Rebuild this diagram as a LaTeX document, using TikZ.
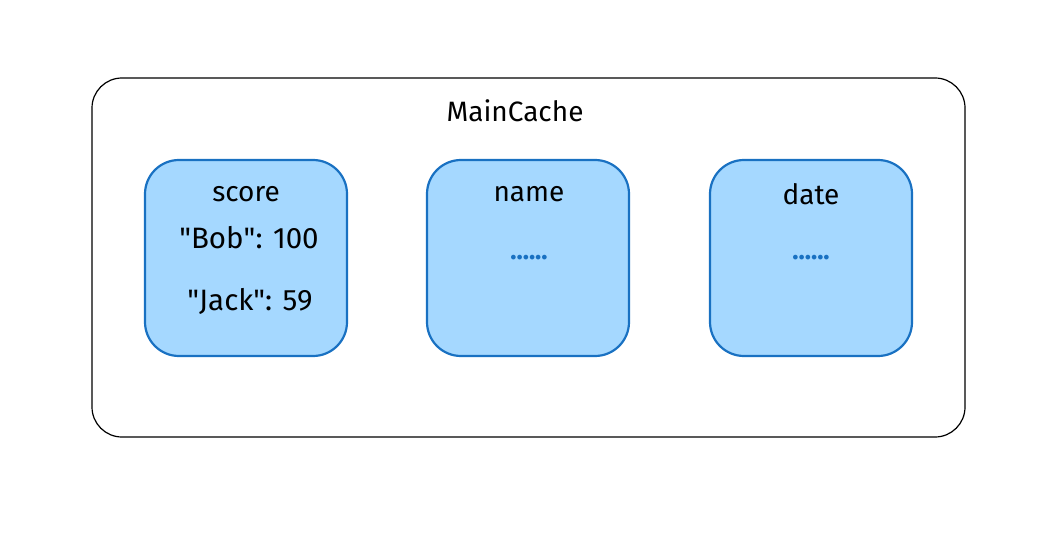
\documentclass[tikz,border=0pt]{standalone}
\usepackage{fontspec}
\setmainfont{Fira Sans}
\definecolor{boxfill}{HTML}{A5D8FF}
\definecolor{boxline}{HTML}{1971C2}
\begin{document}
\begin{tikzpicture}[x=1pt, y=-1pt,
    cachebox/.style={draw=black, line width=1.2pt, rounded corners=30pt,
      minimum width=873pt, minimum height=359pt, inner sep=0pt},
    mapbox/.style={draw=boxline, fill=boxfill, line width=2.2pt, rounded corners=34pt,
      minimum width=202pt, minimum height=196pt, inner sep=0pt},
    lbl/.style={font=\fontsize{28}{32}\selectfont, text=black},
    dots/.style={font=\fontsize{26}{30}\selectfont\bfseries, text=boxline}]
  \useasboundingbox (0,0) rectangle (1054,540);
  \node[cachebox] (cache) at (528.5,257.5) {};
  \node[lbl] (title) at (515,111) {MainCache};
  \node[mapbox] (score) at (246,258) {};
  \node[mapbox] (name) at (528,258) {};
  \node[mapbox] (date) at (811,258) {};
  \node[lbl] (scorehead) at (246,194) {score};
  \node[lbl, font=\fontsize{29.5}{33}\selectfont] (bob) at (249,238) {\textquotedbl Bob\textquotedbl: 100};
  \node[lbl, font=\fontsize{29.5}{33}\selectfont] (jack) at (250,301) {\textquotedbl Jack\textquotedbl: 59};
  \node[lbl] (namehead) at (529,194) {name};
  \node[dots] (namedots) at (529,258) {......};
  \node[lbl] (datehead) at (811,194) {date};
  \node[dots] (datedots) at (811,258) {......};
\end{tikzpicture}
\end{document}
